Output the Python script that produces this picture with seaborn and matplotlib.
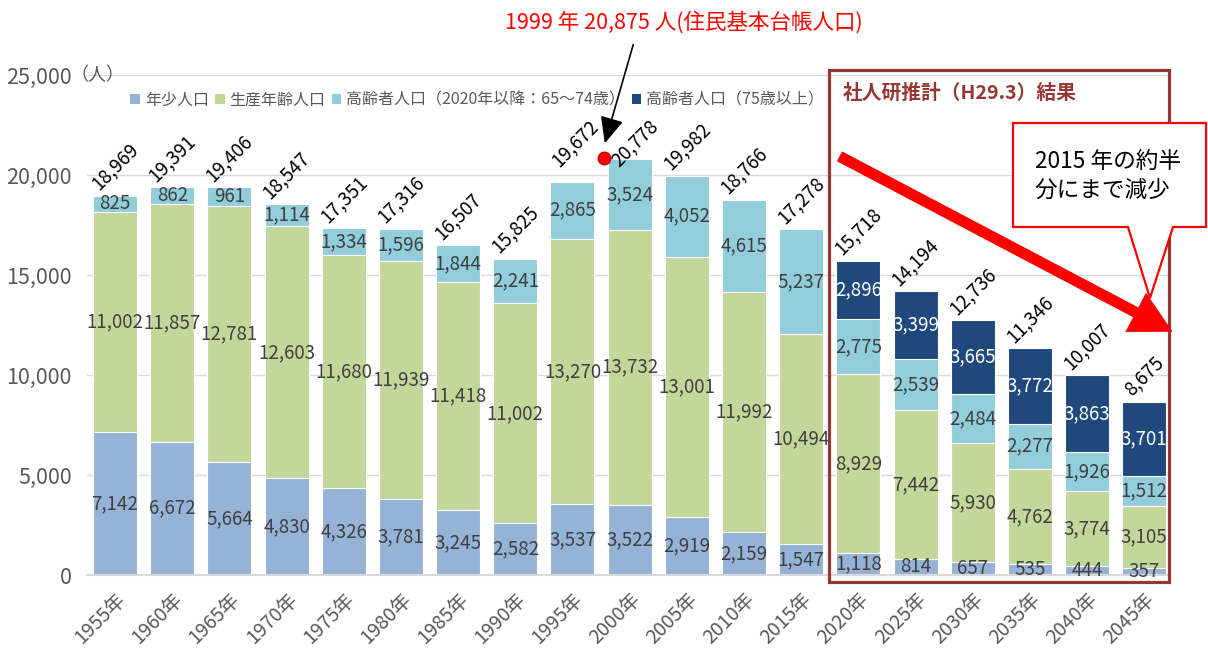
"""
年齢3区分別人口の推移（積み上げ棒グラフ）
"""
import matplotlib
matplotlib.use("Agg")
import matplotlib.pyplot as plt
from matplotlib.patches import Patch, Rectangle, Polygon, FancyArrowPatch
import numpy as np
import seaborn as sns

years = [f"{y}年" for y in range(1955, 2050, 5)]
youth = [7142, 6672, 5664, 4830, 4326, 3781, 3245, 2582, 3537, 3522,
         2919, 2159, 1547, 1118, 814, 657, 535, 444, 357]
working = [11002, 11857, 12781, 12603, 11680, 11939, 11418, 11002, 13270, 13732,
           13001, 11992, 10494, 8929, 7442, 5930, 4762, 3774, 3105]
elderly = [825, 862, 961, 1114, 1334, 1596, 1844, 2241, 2865, 3524,
           4052, 4615, 5237, 2775, 2539, 2484, 2277, 1926, 1512]
elderly75 = [0, 0, 0, 0, 0, 0, 0, 0, 0, 0,
             0, 0, 0, 2896, 3399, 3665, 3772, 3863, 3701]
totals = [18969, 19391, 19406, 18547, 17351, 17316, 16507, 15825, 19672, 20778,
          19982, 18766, 17278, 15718, 14194, 12736, 11346, 10007, 8675]
series_names = ["年少人口", "生産年齢人口", "高齢者人口（2020年以降：65～74歳）", "高齢者人口（75歳以上）"]
colors = ["#95B3D7", "#C4D79B", "#92CDDC", "#1F497D"]
peak_1999 = 20875

sns.set_theme(style="white")
plt.rcParams["font.family"] = ["Noto Sans CJK JP", "DejaVu Sans"]

W, H = 1208, 648
fig = plt.figure(figsize=(W / 100, H / 100), dpi=100)
ax = fig.add_axes([87 / W, 1 - 575 / H, (1170 - 87) / W, (575 - 75) / H])


def px(x, y):
    # ピクセル位置 -> figure座標
    return (x / W, 1 - y / H)


# 積み上げ：累積値を高い順に重ねて描く
layers = [np.array(youth), np.array(working), np.array(elderly), np.array(elderly75)]
cums = np.cumsum(layers, axis=0)
for k in range(3, -1, -1):
    sns.barplot(x=years, y=cums[k], color=colors[k], saturation=1, width=0.77,
                edgecolor="white", linewidth=0.8, ax=ax, zorder=2)

# 区分ごとの数値ラベル
for k in range(4):
    for i, v in enumerate(layers[k]):
        if v <= 0:
            continue
        mid = cums[k][i] - v / 2
        ax.text(i, mid, f"{v:,}", ha="center", va="center", fontsize=13.5,
                color="white" if k == 3 else "#404040", zorder=5)

# 合計ラベル（45度）
shift = {8: (2, 8), 9: (4, -8)}
for i, t in enumerate(totals):
    dx, dy = shift.get(i, (0, 1))
    ax.annotate(f"{t:,}", (i, t), xytext=(dx, dy), textcoords="offset points",
                rotation=45, ha="center", va="bottom", fontsize=13.5, color="black", zorder=5)

ax.set_ylim(0, 25000)
ax.set_xlim(-0.49, 18.45)
ax.set_yticks(range(0, 25001, 5000))
ax.set_yticklabels([f"{v:,}" for v in range(0, 25001, 5000)])
ax.tick_params(axis="y", length=5, color="#D9D9D9", labelsize=15.5, labelcolor="#595959", pad=6)
ax.tick_params(axis="x", length=0, labelsize=14, labelcolor="#595959", pad=10)
for lab in ax.get_xticklabels():
    lab.set_rotation(45)
    lab.set_ha("right")
    lab.set_rotation_mode("anchor")
ax.grid(axis="y", color="#D9D9D9", linewidth=1)
ax.set_axisbelow(True)
for s in ["left", "right", "top"]:
    ax.spines[s].set_visible(False)
ax.spines["bottom"].set_color("#D9D9D9")
ax.spines["bottom"].set_linewidth(1.5)
ax.set_xlabel("")
ax.set_ylabel("")

fig.text(*px(70, 75), "（人）", ha="left", va="center", fontsize=13, color="#595959")

handles = [Patch(facecolor=c, edgecolor="none") for c in colors]
fig.legend(handles, series_names, loc="center left", bbox_to_anchor=px(124, 100),
           ncol=4, frameon=False, fontsize=11.5, labelcolor="#595959",
           handlelength=0.6, handleheight=0.6, handletextpad=0.3, columnspacing=0.4,
           borderaxespad=0)

# 1999年ピーク注記
ax.plot(8.55, peak_1999, "o", color="#FF0000", markeredgecolor="#C00000",
        markersize=9, clip_on=False, zorder=6)
fig.text(*px(505, 22), f"1999 年 {peak_1999:,} 人(住民基本台帳人口)", ha="left", va="center",
         fontsize=15.5, color="#FF0000")
fig.add_artist(FancyArrowPatch(px(634, 42), px(604, 146), transform=fig.transFigure,
                               arrowstyle="-|>,head_length=0.9,head_width=0.4",
                               mutation_scale=18, color="black", lw=1.2))

# 推計部分の枠
fig.add_artist(Rectangle(px(829, 582), (1169 - 829) / W, (582 - 70) / H,
                         transform=fig.transFigure, fill=False,
                         edgecolor="#953735", linewidth=2.3, zorder=7))
fig.text(*px(843, 93), "社人研推計（H29.3）結果", ha="left", va="center",
         fontsize=14.2, fontweight="bold", color="#953735")

# 減少を示す赤矢印
fig.add_artist(FancyArrowPatch(px(837, 155), px(1175, 333), transform=fig.transFigure,
                               arrowstyle="simple,head_length=1.5,head_width=1.6,tail_width=0.4",
                               mutation_scale=20, color="#FF0000", lw=0, zorder=8))

# 吹き出し
callout = [(1013, 123), (1206, 123), (1206, 227), (1173, 227), (1150, 298),
           (1128, 227), (1013, 227)]
fig.add_artist(Polygon([px(x, y) for x, y in callout], closed=True, transform=fig.transFigure,
                       facecolor="white", edgecolor="#FF0000", linewidth=1.6, zorder=9))
fig.text(*px(1035, 176), "2015 年の約半\n分にまで減少", ha="left", va="center",
         fontsize=16.3, color="black", linespacing=1.35, zorder=10)

fig.savefig("out.png", dpi=100)
plt.close(fig)
